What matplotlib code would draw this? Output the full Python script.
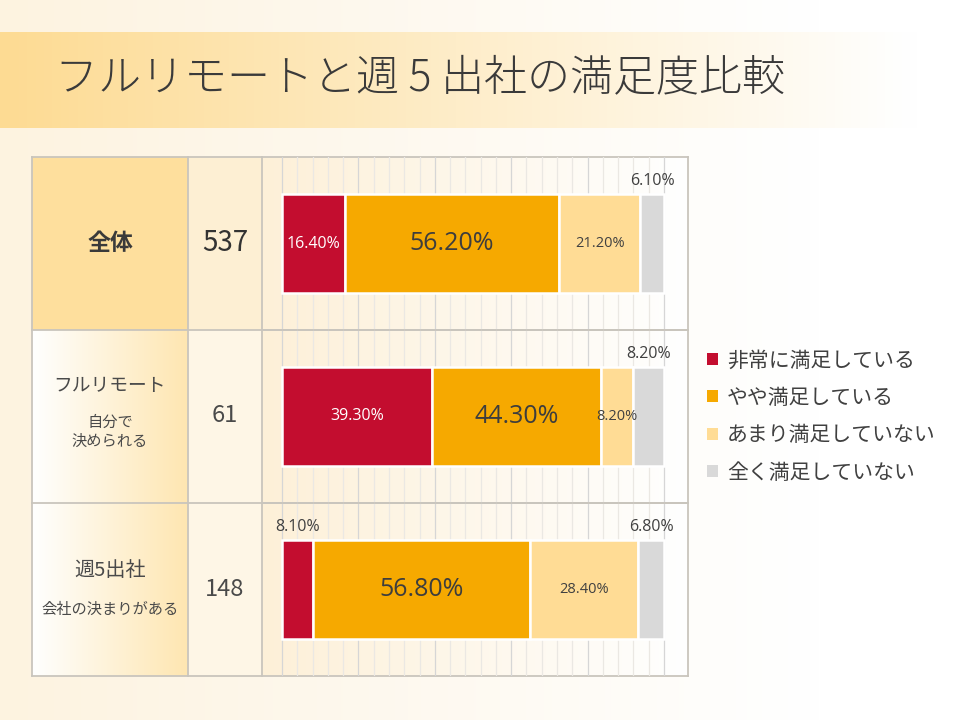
import matplotlib
matplotlib.use('Agg')
import matplotlib.pyplot as plt
import numpy as np
from matplotlib.colors import to_rgb
from matplotlib.patches import Rectangle

plt.rcParams['font.family'] = ['Noto Sans CJK JP', 'DejaVu Sans']

# ---- data ----
groups = ['全体', 'フルリモート', '週5出社']
subtitles = ['', '自分で\n決められる', '会社の決まりがある']
counts = [537, 61, 148]
categories = ['非常に満足している', 'やや満足している', 'あまり満足していない', '全く満足していない']
very = [16.4, 39.3, 8.1]
somewhat = [56.2, 44.3, 56.8]
not_much = [21.2, 8.2, 28.4]
not_at_all = [6.1, 8.2, 6.8]

colors = ['#c30d2f', '#f6a900', '#ffdc95', '#d9d9d9']
title = 'フルリモートと週 5 出社の満足度比較'

W, H = 960, 720
fig = plt.figure(figsize=(9.6, 7.2), dpi=100)

# background axes in pixel units
bg = fig.add_axes([0, 0, 1, 1])
bg.set_xlim(0, W)
bg.set_ylim(H, 0)
bg.axis('off')


def hgrad(ax, x0, x1, y0, y1, c0, c1, stop=1.0, z=0):
    n = 256
    t = np.clip(np.linspace(0, 1, n) / stop, 0, 1)
    a, b = np.array(to_rgb(c0)), np.array(to_rgb(c1))
    img = (a[None, :] * (1 - t[:, None]) + b[None, :] * t[:, None])[None, :, :]
    ax.imshow(img, extent=[x0, x1, y1, y0], aspect='auto', interpolation='bicubic', zorder=z)


# page, title band
hgrad(bg, 0, W, 0, H, '#fdf3e0', '#ffffff', stop=0.85)
hgrad(bg, 0, W, 32, 128, '#fddb93', '#ffffff', stop=0.95, z=1)
bg.text(55, 78, title, fontsize=31, fontweight='light', color='#3a3a3a',
        ha='left', va='center', zorder=5)

# table cells
tl, c1x, c2x, tr = 32, 188, 262, 688
rows = [157, 330, 503, 676]
bg.add_patch(Rectangle((tl, rows[0]), c1x - tl, rows[1] - rows[0], color='#fedf9d', zorder=2))
bg.add_patch(Rectangle((c1x, rows[0]), c2x - c1x, rows[1] - rows[0], color='#fdefd3', zorder=2))
for r in (1, 2):
    hgrad(bg, tl, c1x, rows[r], rows[r + 1], '#ffffff', '#fee6b1', z=2)
    bg.add_patch(Rectangle((c1x, rows[r]), c2x - c1x, rows[r + 1] - rows[r], color='#fef6e6', zorder=2))
hgrad(bg, c2x, tr, rows[0], rows[3], '#fdf0d8', '#ffffff', z=2)

bc = '#c9c5bd'
for y in rows:
    bg.plot([tl, tr], [y, y], color=bc, lw=1.3, zorder=6)
for x in (tl, c1x, c2x, tr):
    bg.plot([x, x], [rows[0], rows[3]], color=bc, lw=1.3, zorder=6)
bg.set_xlim(0, W)
bg.set_ylim(H, 0)

# row header texts
bg.text(110, 243, groups[0], fontsize=16.5, fontweight='bold', color='#3a3a3a', ha='center', va='center', zorder=7)
bg.text(225, 243, str(counts[0]), fontsize=20, color='#333333', ha='center', va='center', zorder=7)
bg.text(110, 386, groups[1], fontsize=13.5, color='#4a4a4a', ha='center', va='center', zorder=7)
bg.text(110, 432, subtitles[1], fontsize=11, color='#4a4a4a', ha='center', va='center', linespacing=1.15, zorder=7)
bg.text(225, 415, str(counts[1]), fontsize=17, color='#4a4a4a', ha='center', va='center', zorder=7)
bg.text(110, 570, groups[2], fontsize=14.5, color='#4a4a4a', ha='center', va='center', zorder=7)
bg.text(110, 609, subtitles[2], fontsize=11, color='#4a4a4a', ha='center', va='center', zorder=7)
bg.text(225, 589, str(counts[2]), fontsize=17, color='#4a4a4a', ha='center', va='center', zorder=7)

# bar axes over the chart column
ppp = 3.82  # pixels per percent
x0px = 282
ax = fig.add_axes([c2x / W, (H - rows[3]) / H, (tr - c2x) / W, (rows[3] - rows[0]) / H])
ax.patch.set_alpha(0)
ax.set_xlim(-(x0px - c2x) / ppp, (tr - x0px) / ppp)
ax.set_ylim(3, 0)
ax.axis('off')

for g in range(0, 101, 4):
    ax.axvline(g, color='#d6d6d6' if g % 20 == 0 else '#ebe8e3', lw=0.9, zorder=1)
for r in (1, 2):
    ax.axhline(r, color=bc, lw=1.3, zorder=1)

ypos = np.arange(len(groups)) + 0.5
bh = 0.567
series = [very, somewhat, not_much, not_at_all]
left = np.zeros(len(groups))
bars = []
outside = {(0, 3), (1, 3), (2, 0), (2, 3)}
for s, vals in enumerate(series):
    b = ax.barh(ypos, vals, left=left, height=bh, color=colors[s], edgecolor='white',
                linewidth=1.8, zorder=3, label=categories[s])
    bars.append(b)
    for i, v in enumerate(vals):
        xc = left[i] + v / 2
        lab = f'{v:.2f}%'
        if (i, s) in outside:
            ax.text(xc, ypos[i] - bh / 2 - 0.08, lab, fontsize=11.5, color='#404040',
                    family='Open Sans', ha='center', va='center', zorder=4)
        elif s == 0:
            ax.text(xc, ypos[i], lab, fontsize=11.5, color='white', family='Open Sans',
                    ha='center', va='center', zorder=4)
        elif s == 1:
            ax.text(xc, ypos[i], lab, fontsize=18, color='#3d3d3d', family='Open Sans',
                    ha='center', va='center', zorder=4)
        else:
            ax.text(xc, ypos[i], lab, fontsize=10.5, color='#404040', family='Open Sans',
                    ha='center', va='center', zorder=4)
    left = left + np.array(vals)

leg = fig.legend(handles=bars, labels=categories, loc='upper left',
                 bbox_to_anchor=(699 / W, 1 - 341 / H), frameon=False, fontsize=15,
                 handlelength=0.5, handleheight=0.5, handletextpad=0.45, labelspacing=0.74,
                 borderaxespad=0)
for t in leg.get_texts():
    t.set_color('#404040')
for h in leg.legend_handles:
    h.set_linewidth(0)

fig.savefig('out.png', dpi=100)
